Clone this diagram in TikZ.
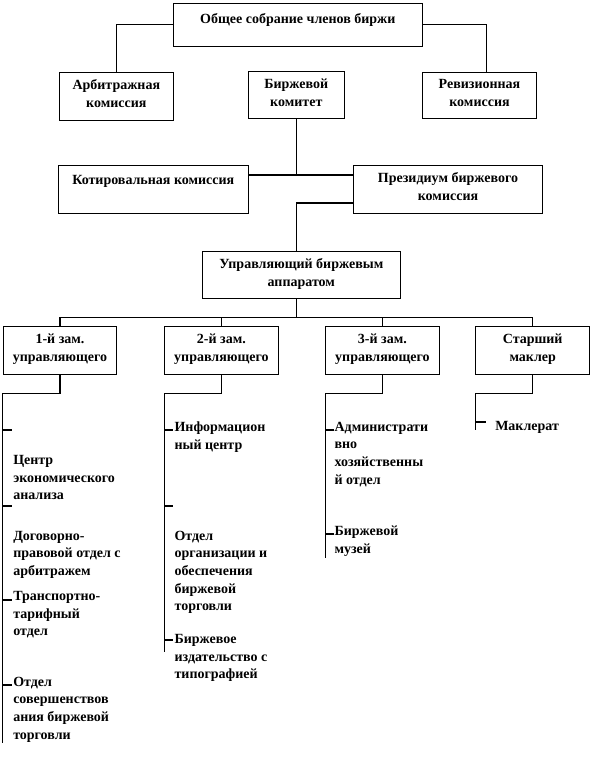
\documentclass[tikz,border=0pt]{standalone}
\usepackage{fontspec}
\setmainfont{Liberation Serif}

\begin{document}
\begin{tikzpicture}[%%
  x=0.75pt,y=-0.75pt,%%
  boxStyle/.style n args={2}{draw,line width=0.8pt,minimum width=#1*0.75pt,minimum height=#2*0.75pt,inner sep=0pt},%%
  textStyle/.style={anchor=north,align=center,inner sep=0pt,font=\fontsize{10.5}{13.5}\selectfont\bfseries},%%
  itemStyle/.style={anchor=north west,align=left,inner sep=0pt,font=\fontsize{10.5}{13.2}\selectfont\bfseries},%%
  lineStyle/.style={-,line width=0.8pt}%%
]
%%
%%
\useasboundingbox (0,0) rectangle (601,768);
%%
%% Upper level boxes.
\node[boxStyle={249}{43}] (general) at (297.8,24.8) {};
\node[boxStyle={114}{48}] (arb) at (116.3,96.3) {};
\node[boxStyle={96}{47}] (kom) at (296.3,94.8) {};
\node[boxStyle={114.5}{46}] (rev) at (479.5,95.3) {};
\node[boxStyle={190}{48}] (kotir) at (153.3,189.3) {};
\node[boxStyle={189.5}{48}] (prez) at (448,189.3) {};
\node[boxStyle={198}{47.5}] (upr) at (301.3,275) {};
%%
\node[textStyle] (generalText) at ([yshift=-7.6pt]general.north) {Общее собрание членов биржи};
\node[textStyle] (arbText) at ([yshift=-5.6pt]arb.north) {Арбитражная\\комиссия};
\node[textStyle] (komText) at ([yshift=-5.6pt]kom.north) {Биржевой\\комитет};
\node[textStyle] (revText) at ([yshift=-5.6pt]rev.north) {Ревизионная\\комиссия};
\node[textStyle] (kotirText) at ([yshift=-7.4pt]kotir.north) {Котировальная комиссия};
\node[textStyle] (prezText) at ([yshift=-5.6pt]prez.north) {Президиум биржевого\\комиссия};
\node[textStyle] (uprText) at ([yshift=-5.6pt]upr.north) {Управляющий биржевым\\аппаратом};
%%
%% Deputies.
\node[boxStyle={113.5}{47.6}] (first) at (60,350.5) {};
\node[boxStyle={113.5}{47.6}] (second) at (221.4,350.5) {};
\node[boxStyle={113.5}{47.6}] (third) at (382.4,350.5) {};
\node[boxStyle={113.5}{47.6}] (fourth) at (532.7,350.5) {};
%%
\node[textStyle] (firstText) at ([yshift=-5.6pt]first.north) {1-й зам.\\управляющего};
\node[textStyle] (secondText) at ([yshift=-5.6pt]second.north) {2-й зам.\\управляющего};
\node[textStyle] (thirdText) at ([yshift=-5.6pt]third.north) {3-й зам.\\управляющего};
\node[textStyle] (fourthText) at ([yshift=-5.6pt]fourth.north) {Старший\\маклер};
%%
%% Connectors of the upper part.
\coordinate (hub) at (296.3,175);
\draw[lineStyle] (general.west) -| (arb.north);
\draw[lineStyle] (general.east) -| ([xshift=5pt]rev.north);
\draw[lineStyle] (kom.south) -- (hub);
\draw[lineStyle] (kotir.east |- hub) -- (prez.west |- hub);
\draw[lineStyle] (prez.west |- 0,203) -| (hub |- upr.north);
%%
%% Connectors to the deputies.
\coordinate (rowBus) at (0,317.3);
\draw[lineStyle] (hub |- upr.south) -- (hub |- rowBus);
\draw[lineStyle] (first.north) |- (rowBus -| fourth.north) -- (fourth.north);
\foreach \b in {second,third}
  \draw[lineStyle] (\b.north) -- (\b.north |- rowBus);
%%
%% Department lines.
\coordinate (colBus) at (0,393.3);
\draw[lineStyle] (first.south) |- (first.west |- colBus) -- (first.west |- 0,742.7);
\draw[lineStyle] (second.south) |- (second.west |- colBus) -- (second.west |- 0,651.7);
\draw[lineStyle] (third.south) |- (third.west |- colBus) -- (third.west |- 0,558.3);
\draw[lineStyle] (fourth.south) |- (fourth.west |- colBus) -- (fourth.west |- 0,430);
\foreach \y in {430,506,600,685}
  \draw[lineStyle] (first.west |- 0,\y) -- ++(9,0);
\foreach \y in {430,506,640}
  \draw[lineStyle] (second.west |- 0,\y) -- ++(9,0);
\foreach \y in {430,534}
  \draw[lineStyle] (third.west |- 0,\y) -- ++(9,0);
\draw[lineStyle] (fourth.west |- 0,422) -- ++(11,0);
%%
%% Departments.
\node[itemStyle] (econ) at (13,455) {Центр\\экономического\\анализа};
\node[itemStyle] (legal) at (13,530.7) {Договорно-\\правовой отдел с\\арбитражем};
\node[itemStyle] (transport) at (13,591.3) {Транспортно-\\тарифный\\отдел};
\node[itemStyle] (improve) at (13,676.7) {Отдел\\совершенствов\\ания биржевой\\торговли};
\node[itemStyle] (info) at (174.3,421.7) {Информацион\\ный центр};
\node[itemStyle] (trading) at (174.3,530.7) {Отдел\\организации и\\обеспечения\\биржевой\\торговли};
\node[itemStyle] (press) at (174.3,634) {Биржевое\\издательство с\\типографией};
\node[itemStyle] (admin) at (334.3,421.7) {Администрати\\вно\\хозяйственны\\й отдел};
\node[itemStyle] (museum) at (334.3,525.7) {Биржевой\\музей};
\node[itemStyle] (brokers) at (495,420.7) {Маклерат};
\end{tikzpicture}
\end{document}
